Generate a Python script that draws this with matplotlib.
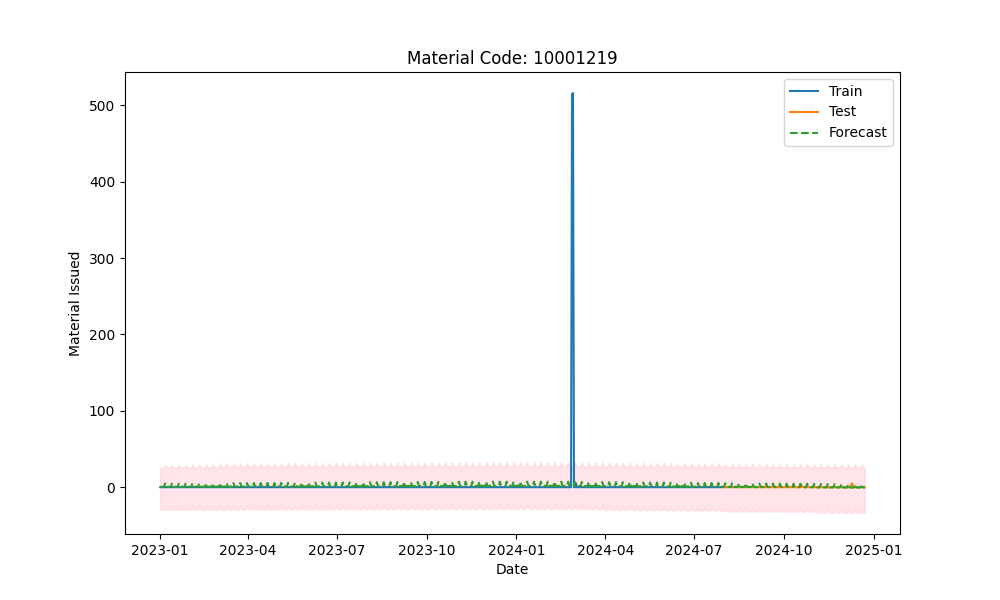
import matplotlib
matplotlib.use("Agg")
import matplotlib.pyplot as plt
import numpy as np
import pandas as pd

# Date range of the series (daily)
start_date = "2023-01-01"
end_date = "2024-12-23"
split_date = "2024-08-01"   # first day of the test part

# Train / test: daily issues are zero except for these days
train_event_dates = ["2024-02-27", "2024-02-28", "2024-03-02"]
train_event_values = [514, 516, 5]
test_event_dates = ["2024-09-12", "2024-10-20", "2024-12-09", "2024-12-10"]
test_event_values = [1, 1, 3, 5]

# Forecast: monthly level (Jan 2023 .. Dec 2024) and weekly spike height
month_level = [0.2, 0.3, 0.4, 0.5, 0.6, 0.7, 0.8, 0.9, 1.0, 1.1, 1.2, 1.3,
               1.3, 1.2, 1.0, 0.8, 0.6, 0.4, 0.2, 0.0, -0.2, -0.4, -0.6, -0.8]
month_spike = [4.5, 4.8, 5.0, 5.0, 5.2, 5.4, 5.5, 5.6, 5.8, 5.8, 6.0, 6.0,
               6.0, 6.0, 5.8, 5.8, 5.6, 5.5, 5.3, 5.2, 5.0, 5.0, 4.8, 4.6]
# shape of a week (Mon..Sun), 1.0 = spike day
week_shape = [0.05, 0.10, 0.00, 0.15, 1.00, 0.25, 0.05]

# Uncertainty band around the forecast (per month)
band_upper = [25, 25, 26, 26, 26, 26, 26, 26, 26, 26, 26, 26,
              26, 26, 26, 26, 26, 26, 26, 26, 26, 26, 26, 26]
band_lower = [30, 30, 30, 30, 30, 30, 30, 30, 30, 30, 30, 30,
              30, 30, 30, 31, 31, 31, 31, 32, 32, 32, 33, 33]

dates = pd.date_range(start_date, end_date, freq="D")
actual = pd.Series(0.0, index=dates)
for d, v in zip(train_event_dates + test_event_dates, train_event_values + test_event_values):
    actual[pd.Timestamp(d)] = v

train = actual[actual.index < split_date]
test = actual[actual.index >= split_date]

month_idx = (dates.year - 2023) * 12 + dates.month - 1
level = np.array(month_level)[month_idx]
spike = np.array(month_spike)[month_idx]
shape = np.array(week_shape)[dates.weekday]
forecast = level + shape * spike
upper = forecast + np.array(band_upper)[month_idx]
lower = forecast - np.array(band_lower)[month_idx]

fig, ax = plt.subplots(figsize=(10, 6), dpi=100)
ax.plot(train.index, train.values, label="Train")
ax.plot(test.index, test.values, label="Test")
ax.plot(dates, forecast, "--", label="Forecast")
ax.fill_between(dates, lower, upper, color="pink", alpha=0.4)

ax.set_title("Material Code: 10001219")
ax.set_xlabel("Date")
ax.set_ylabel("Material Issued")
ax.legend(loc="upper right")

fig.savefig("out.png")
